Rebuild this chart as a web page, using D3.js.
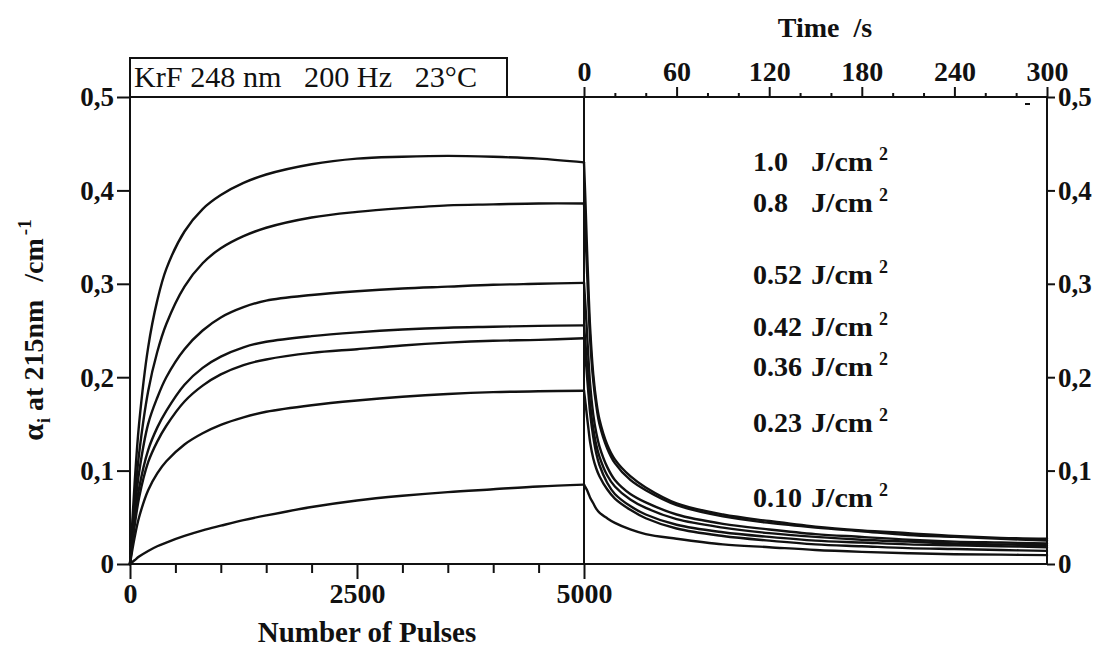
<!DOCTYPE html>
<html>
<head>
<meta charset="utf-8">
<script src="https://cdn.jsdelivr.net/npm/d3@7"></script>
<style>
  html, body { margin: 0; padding: 0; background: #fff; }
  svg { display: block; }
  text { font-family: "Liberation Serif", "Times New Roman", serif; fill: #111; }
</style>
</head>
<body>
<svg id="chart" width="1103" height="648"></svg>
<script>
// ---------------- DATA ----------------
const fluenceLabels = ["1.0", "0.8", "0.52", "0.42", "0.36", "0.23", "0.10"];

// Build-up: absorption vs number of pulses
const pulseGrid = [0, 50, 100, 200, 300, 400, 600, 800, 1000, 1250, 1500, 2000, 2500, 3000, 3500, 4000, 4500, 5000];
const rise100 = [0, 0.085, 0.150, 0.232, 0.282, 0.316, 0.356, 0.380, 0.395, 0.408, 0.417, 0.428, 0.434, 0.436, 0.437, 0.436, 0.434, 0.430];
const rise080 = [0, 0.068, 0.118, 0.185, 0.227, 0.257, 0.297, 0.322, 0.338, 0.351, 0.360, 0.371, 0.377, 0.381, 0.384, 0.385, 0.386, 0.386];
const rise052 = [0, 0.056, 0.098, 0.150, 0.178, 0.200, 0.230, 0.250, 0.264, 0.275, 0.282, 0.288, 0.292, 0.295, 0.297, 0.299, 0.300, 0.301];
const rise042 = [0, 0.046, 0.081, 0.122, 0.146, 0.164, 0.192, 0.210, 0.222, 0.232, 0.238, 0.244, 0.248, 0.251, 0.253, 0.254, 0.255, 0.2555];
const rise036 = [0, 0.040, 0.071, 0.109, 0.131, 0.148, 0.174, 0.191, 0.203, 0.213, 0.219, 0.226, 0.230, 0.234, 0.237, 0.239, 0.240, 0.2417];
const rise023 = [0, 0.028, 0.050, 0.079, 0.097, 0.110, 0.128, 0.140, 0.149, 0.157, 0.163, 0.170, 0.175, 0.179, 0.182, 0.184, 0.185, 0.1855];
const rise010 = [0, 0.004, 0.008, 0.014, 0.019, 0.023, 0.030, 0.036, 0.041, 0.047, 0.052, 0.061, 0.068, 0.073, 0.077, 0.080, 0.083, 0.085];

// Recovery: absorption vs time after irradiation
const timeGrid = [0, 1, 2, 3, 4, 6, 8, 10, 15, 20, 30, 40, 60, 90, 120, 150, 180, 210, 240, 270, 300];
const decay100 = [0.430, 0.385, 0.335, 0.290, 0.252, 0.203, 0.174, 0.155, 0.128, 0.112, 0.094, 0.082, 0.065, 0.053, 0.046, 0.040, 0.036, 0.033, 0.030, 0.028, 0.027];
const decay080 = [0.386, 0.352, 0.312, 0.274, 0.240, 0.196, 0.169, 0.150, 0.124, 0.108, 0.090, 0.079, 0.063, 0.051, 0.044, 0.039, 0.035, 0.031, 0.029, 0.027, 0.025];
const decay052 = [0.301, 0.275, 0.246, 0.217, 0.192, 0.160, 0.140, 0.126, 0.104, 0.090, 0.075, 0.066, 0.053, 0.043, 0.037, 0.032, 0.029, 0.026, 0.024, 0.023, 0.022];
const decay042 = [0.2555, 0.235, 0.212, 0.190, 0.170, 0.145, 0.127, 0.115, 0.095, 0.083, 0.069, 0.060, 0.048, 0.039, 0.033, 0.029, 0.026, 0.024, 0.022, 0.021, 0.020];
const decay036 = [0.2417, 0.222, 0.200, 0.180, 0.161, 0.136, 0.118, 0.106, 0.087, 0.075, 0.062, 0.053, 0.042, 0.034, 0.029, 0.025, 0.023, 0.021, 0.020, 0.019, 0.018];
const decay023 = [0.1855, 0.172, 0.157, 0.143, 0.130, 0.113, 0.102, 0.094, 0.080, 0.070, 0.058, 0.049, 0.038, 0.030, 0.025, 0.021, 0.019, 0.017, 0.016, 0.015, 0.014];
const decay010 = [0.085, 0.082, 0.079, 0.075, 0.071, 0.065, 0.059, 0.055, 0.049, 0.044, 0.037, 0.032, 0.027, 0.021, 0.018, 0.015, 0.013, 0.0115, 0.0105, 0.010, 0.0095];

// Tick values / labels
const yTicks = [0, 0.1, 0.2, 0.3, 0.4, 0.5];
const yTickLabels = ["0", "0,1", "0,2", "0,3", "0,4", "0,5"];
const pulseMajorTicks = [0, 2500, 5000];
const pulseMinorTicks = [500, 1000, 1500, 2000, 3000, 3500, 4000, 4500];
const timeMajorTicks = [0, 60, 120, 180, 240, 300];
const timeMinorTicks = [20, 40, 80, 100, 140, 160, 200, 220, 260, 280];

const riseSeries = [rise100, rise080, rise052, rise042, rise036, rise023, rise010];
const decaySeries = [decay100, decay080, decay052, decay042, decay036, decay023, decay010];

// ---------------- LAYOUT ----------------
const L = { left: 130, mid: 584, right: 1047, top: 97, bottom: 564 };
const labelBaselines = [171, 212, 284, 336, 376, 432, 507];

const svg = d3.select("#chart");
const y = d3.scaleLinear().domain([0, 0.5]).range([L.bottom, L.top]);
const xP = d3.scaleLinear().domain([0, 5000]).range([L.left, L.mid]);
const xT = d3.scaleLinear().domain([0, 300]).range([L.mid, L.right]);

const axisStroke = 2;
function styleAxis(g, fs) {
  g.select(".domain").remove();
  g.selectAll(".tick line").attr("stroke", "#111").attr("stroke-width", axisStroke);
  g.selectAll(".tick text").attr("font-size", fs).attr("font-weight", "bold")
    .attr("font-family", '"Liberation Serif", serif').attr("fill", "#111");
}

// Frame lines
const frame = svg.append("g").attr("stroke", "#111").attr("stroke-width", axisStroke).attr("fill", "none");
frame.append("line").attr("x1", L.left).attr("x2", L.right).attr("y1", L.top).attr("y2", L.top);
frame.append("line").attr("x1", L.left).attr("x2", L.right).attr("y1", L.bottom).attr("y2", L.bottom);
frame.append("line").attr("x1", L.left).attr("x2", L.left).attr("y1", L.top).attr("y2", L.bottom);
frame.append("line").attr("x1", L.mid).attr("x2", L.mid).attr("y1", L.top).attr("y2", L.bottom);
frame.append("line").attr("x1", L.right).attr("x2", L.right).attr("y1", L.top).attr("y2", L.bottom);

// Left y axis
const gyl = svg.append("g").attr("transform", `translate(${L.left},0)`)
  .call(d3.axisLeft(y).tickValues(yTicks).tickSize(13).tickPadding(3)
    .tickFormat((d, i) => yTickLabels[i]));
styleAxis(gyl, 27);
gyl.selectAll(".tick text").attr("dy", "0.33em");

// Right y axis
const gyr = svg.append("g").attr("transform", `translate(${L.right},0)`)
  .call(d3.axisRight(y).tickValues(yTicks).tickSize(8).tickPadding(3)
    .tickFormat((d, i) => yTickLabels[i]));
styleAxis(gyr, 27);
gyr.selectAll(".tick text").attr("dy", "0.33em");

// Bottom pulse axis
const gxb = svg.append("g").attr("transform", `translate(0,${L.bottom})`)
  .call(d3.axisBottom(xP).tickValues(pulseMajorTicks).tickSize(15).tickPadding(4).tickFormat(d3.format("d")));
styleAxis(gxb, 28);
const gxbm = svg.append("g").attr("transform", `translate(0,${L.bottom})`)
  .call(d3.axisBottom(xP).tickValues(pulseMinorTicks).tickSize(9).tickFormat(""));
styleAxis(gxbm, 28);

// Top time axis
const gxt = svg.append("g").attr("transform", `translate(0,${L.top})`)
  .call(d3.axisTop(xT).tickValues(timeMajorTicks).tickSize(10).tickPadding(6).tickFormat(d3.format("d")));
styleAxis(gxt, 28);
const gxtm = svg.append("g").attr("transform", `translate(0,${L.top})`)
  .call(d3.axisTop(xT).tickValues(timeMinorTicks).tickSize(4).tickFormat(""));
styleAxis(gxtm, 28);

// small scan mark near top right
svg.append("line").attr("x1", 1025).attr("x2", 1030).attr("y1", 104).attr("y2", 104)
  .attr("stroke", "#111").attr("stroke-width", 2);

// Curves
const curves = svg.append("g").attr("fill", "none").attr("stroke", "#111")
  .attr("stroke-width", 2.4).attr("stroke-linejoin", "round").attr("stroke-linecap", "round");
const riseLine = d3.line().x((d) => xP(d[0])).y((d) => y(d[1])).curve(d3.curveCatmullRom.alpha(0.5));
const decayLine = d3.line().x((d) => xT(d[0])).y((d) => y(d[1])).curve(d3.curveCatmullRom.alpha(0.5));
riseSeries.forEach((s) => {
  curves.append("path").attr("d", riseLine(pulseGrid.map((p, i) => [p, s[i]])));
});
decaySeries.forEach((s) => {
  curves.append("path").attr("d", decayLine(timeGrid.map((t, i) => [t, s[i]])));
});

// Fluence labels
fluenceLabels.forEach((f, i) => {
  const yb = labelBaselines[i];
  const g = svg.append("g").attr("font-weight", "bold");
  g.append("text").attr("x", 753).attr("y", yb).attr("font-size", 28).text(f);
  g.append("text").attr("x", 811).attr("y", yb).attr("font-size", 28)
    .attr("textLength", 62).attr("lengthAdjust", "spacingAndGlyphs").text("J/cm");
  g.append("text").attr("x", 879).attr("y", yb - 11).attr("font-size", 18).text("2");
});

// Condition box
svg.append("rect").attr("x", L.left).attr("y", 58).attr("width", 507 - L.left).attr("height", L.top - 58)
  .attr("fill", "#fff").attr("stroke", "#111").attr("stroke-width", axisStroke);
svg.append("text").attr("x", 134).attr("y", 87).attr("font-size", 29)
  .attr("textLength", 343).attr("lengthAdjust", "spacingAndGlyphs")
  .attr("xml:space", "preserve")
  .text("KrF 248 nm   200 Hz   23°C");

// Axis titles
svg.append("text").attr("x", 367).attr("y", 642).attr("text-anchor", "middle")
  .attr("font-size", 29).attr("font-weight", "bold")
  .text("Number of Pulses");
svg.append("text").attr("x", 825).attr("y", 37).attr("text-anchor", "middle")
  .attr("font-size", 28).attr("font-weight", "bold").attr("xml:space", "preserve")
  .text("Time  /s");

const yt = svg.append("text").attr("transform", "translate(43,330) rotate(-90)")
  .attr("text-anchor", "middle").attr("font-size", 28).attr("font-weight", "bold");
yt.append("tspan").attr("font-size", 30).text("α");
yt.append("tspan").attr("font-size", 18).attr("dy", 7).attr("dx", 1).text("i");
yt.append("tspan").attr("dy", -7).attr("dx", 7).text("at 215nm");
yt.append("tspan").attr("dx", 18).text("/cm");
yt.append("tspan").attr("font-size", 19).attr("dy", -12).attr("dx", 3).text("-1");
</script>
</body>
</html>
